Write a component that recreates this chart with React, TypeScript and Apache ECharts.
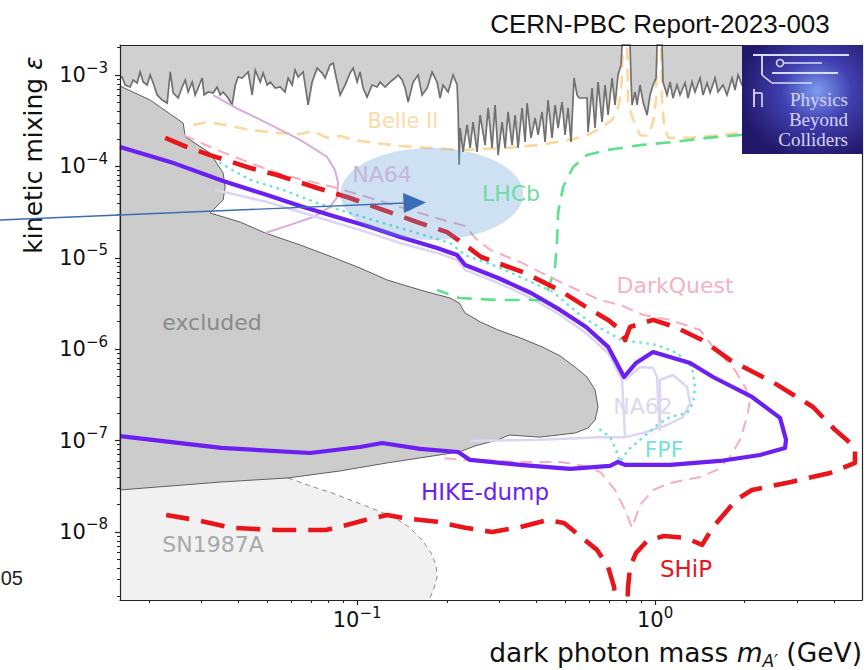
import React, { useEffect, useRef } from "react";
import * as echarts from "echarts";

// ---- axis ranges and ticks ----
const X_MIN = 0.016;
const X_MAX = 4.95;
const Y_MIN = 1.8e-9;
const Y_MAX = 2.13e-3;

const X_MAJOR_TICKS = [0.1, 1];
const X_MINOR_TICKS = [0.02, 0.03, 0.04, 0.05, 0.06, 0.07, 0.08, 0.09, 0.2, 0.3, 0.4, 0.5, 0.6, 0.7, 0.8, 0.9, 2, 3, 4];
const Y_MAJOR_TICKS = [1e-8, 1e-7, 1e-6, 1e-5, 1e-4, 1e-3];
const Y_MINOR_TICKS = [
  2e-9, 3e-9, 4e-9, 5e-9, 6e-9, 7e-9, 8e-9, 9e-9,
  2e-8, 3e-8, 4e-8, 5e-8, 6e-8, 7e-8, 8e-8, 9e-8,
  2e-7, 3e-7, 4e-7, 5e-7, 6e-7, 7e-7, 8e-7, 9e-7,
  2e-6, 3e-6, 4e-6, 5e-6, 6e-6, 7e-6, 8e-6, 9e-6,
  2e-5, 3e-5, 4e-5, 5e-5, 6e-5, 7e-5, 8e-5, 9e-5,
  2e-4, 3e-4, 4e-4, 5e-4, 6e-4, 7e-4, 8e-4, 9e-4,
  2e-3,
];

// ---- data: [dark photon mass (GeV), kinetic mixing epsilon] ----
const TOP_EXCLUDED_EDGE = [
  [0.016, 9.27e-4], [0.01627, 9.5e-4], [0.01665, 7.77e-4], [0.0173, 7.39e-4], [0.01771, 8.81e-4], [0.01827, 8.17e-4],
  [0.0187, 1.08e-3], [0.01913, 8.38e-4], [0.01974, 7.77e-4], [0.0202, 1.0e-3], [0.02068, 8.17e-4], [0.02133, 6.04e-4],
  [0.02216, 5.32e-4], [0.02304, 4.94e-4], [0.0236, 1.08e-3], [0.02413, 6.36e-4], [0.02508, 5.6e-4], [0.02587, 7.39e-4],
  [0.0265, 8.81e-4], [0.02709, 6.52e-4], [0.02795, 8.38e-4], [0.0286, 6.04e-4], [0.02927, 7.21e-4], [0.03019, 9.27e-4],
  [0.03066, 6.04e-4], [0.03162, 6.52e-4], [0.03287, 6.36e-4], [0.0339, 7.39e-4], [0.0347, 6.04e-4], [0.0355, 6.52e-4],
  [0.0369, 5.6e-4], [0.03806, 4.7e-4], [0.039, 7.77e-4], [0.03988, 9.5e-4], [0.04113, 9.27e-4], [0.0421, 1.0e-3],
  [0.04308, 1.08e-3], [0.04444, 6.04e-4], [0.0455, 1.13e-3], [0.0473, 8.38e-4], [0.04837, 1.05e-3], [0.04989, 7.77e-4],
  [0.0511, 8.38e-4], [0.0531, 7.21e-4], [0.0552, 7.39e-4], [0.0573, 6.52e-4], [0.05868, 9.27e-4], [0.06052, 7.77e-4],
  [0.0619, 1.13e-3], [0.06339, 9.5e-4], [0.06589, 1.08e-3], [0.06849, 4.7e-4], [0.07063, 8.38e-4], [0.07341, 1.19e-3],
  [0.0763, 1.05e-3], [0.0781, 9.27e-4], [0.0811, 1.29e-3], [0.08309, 1.35e-3], [0.08569, 8.38e-4], [0.0877, 6.04e-4],
  [0.0911, 7.77e-4], [0.0947, 1.05e-3], [0.09696, 1.19e-3], [0.1, 8.38e-4], [0.1023, 1.08e-3], [0.1047, 7.21e-4],
  [0.108, 5.74e-4], [0.1123, 7.77e-4], [0.1167, 7.39e-4], [0.1194, 8.38e-4], [0.1241, 7.39e-4], [0.129, 8.38e-4],
  [0.1341, 9.27e-4], [0.1373, 1.0e-3], [0.1416, 8.81e-4], [0.1449, 7.21e-4], [0.1483, 5.07e-4], [0.1542, 8.38e-4],
  [0.1602, 1.0e-3], [0.1652, 6.04e-4], [0.1718, 7.21e-4], [0.1785, 1.08e-3], [0.1855, 8.38e-4], [0.1899, 5.6e-4],
  [0.1943, 7.77e-4], [0.202, 6.52e-4], [0.21, 1.0e-3], [0.2166, 7.77e-4], [0.2183, 3.94e-4], [0.22, 1.04e-4],
  [0.2217, 2.63e-4], [0.2268, 1.44e-4], [0.2339, 2.84e-4], [0.2395, 1.59e-4], [0.245, 3.06e-4], [0.2527, 1.44e-4],
  [0.2587, 3.65e-4], [0.2689, 1.71e-4], [0.2752, 4.36e-4], [0.2838, 1.59e-4], [0.2905, 4.7e-4], [0.2973, 1.33e-4],
  [0.3066, 3.06e-4], [0.3139, 1.59e-4], [0.3212, 3.94e-4], [0.3312, 1.71e-4], [0.3391, 3.65e-4], [0.3469, 1.59e-4],
  [0.3578, 4.36e-4], [0.3663, 1.85e-4], [0.3719, 4.94e-4], [0.3835, 2.05e-4], [0.3957, 3.39e-4], [0.4049, 2.21e-4],
  [0.4176, 3.94e-4], [0.4275, 1.85e-4], [0.4374, 5.32e-4], [0.4511, 2.05e-4], [0.4618, 4.7e-4], [0.4726, 2.63e-4],
  [0.4875, 5.07e-4], [0.4989, 2.21e-4], [0.5105, 4.36e-4], [0.5225, 1.85e-4], [0.5347, 9.27e-4], [0.5472, 6.04e-4],
  [0.5558, 5.6e-4], [0.5912, 5.6e-4], [0.5958, 2.38e-4], [0.6145, 7.21e-4], [0.629, 2.63e-4], [0.6437, 8.38e-4],
  [0.664, 3.06e-4], [0.6795, 7.77e-4], [0.6955, 3.65e-4], [0.7174, 9.27e-4], [0.734, 4.7e-4], [0.7513, 1.0e-3],
  [0.7688, 1.29e-3], [0.7747, 2.13e-3], [0.8242, 2.13e-3], [0.8308, 8.81e-4], [0.8372, 4.7e-4], [0.8566, 6.52e-4],
  [0.8701, 4.7e-4], [0.8904, 7.77e-4], [0.9114, 5.07e-4], [0.9401, 3.65e-4], [0.9619, 6.04e-4], [0.9847, 7.77e-4],
  [1.0078, 9.27e-4], [1.0156, 2.13e-3], [1.0556, 2.13e-3], [1.0637, 8.38e-4], [1.097, 6.04e-4], [1.123, 8.38e-4],
  [1.149, 5.6e-4], [1.185, 7.77e-4], [1.213, 6.04e-4], [1.261, 8.17e-4], [1.29, 5.6e-4], [1.331, 8.38e-4],
  [1.362, 6.52e-4], [1.416, 9.27e-4], [1.449, 6.04e-4], [1.495, 8.17e-4], [1.53, 6.36e-4], [1.59, 9.27e-4],
  [1.627, 6.52e-4], [1.691, 7.77e-4], [1.744, 6.04e-4], [1.813, 9.27e-4], [1.855, 6.86e-4], [1.899, 1.0e-3],
  [1.958, 7.77e-4], [2.251, 8.81e-4], [3.066, 8.38e-4], [4.95, 8.81e-4],
];

const EXCLUDED = [
  [0.016, 7.58e-4], [0.0202, 5.32e-4], [0.02607, 2.98e-4], [0.0265, 2.1e-4], [0.0321, 1.4e-4], [0.0355, 8.47e-5],
  [0.03606, 5.95e-5], [0.0355, 4.29e-5], [0.03287, 3.34e-5], [0.0321, 3.09e-5], [0.0405, 2.46e-5], [0.0491, 1.87e-5],
  [0.0644, 1.38e-5], [0.0824, 1.02e-5], [0.1023, 7.73e-6], [0.1261, 5.72e-6], [0.1506, 4.79e-6], [0.1771, 4.12e-6],
  [0.2052, 3.63e-6], [0.22, 3.2e-6], [0.2304, 2.49e-6], [0.2587, 1.99e-6], [0.2973, 1.62e-6], [0.3524, 1.33e-6],
  [0.4176, 1.06e-6], [0.48, 8.43e-7], [0.539, 6.38e-7], [0.5912, 4.96e-7], [0.629, 3.58e-7], [0.6437, 2.33e-7],
  [0.629, 1.68e-7], [0.5958, 1.37e-7], [0.539, 1.21e-7], [0.4113, 1.09e-7], [0.3237, 1.15e-7], [0.2973, 1.02e-7],
  [0.2489, 8.73e-8], [0.22, 7.5e-8], [0.1627, 6.46e-8], [0.1261, 5.69e-8], [0.0877, 4.65e-8], [0.05868, 3.9e-8],
  [0.03497, 3.52e-8], [0.016, 2.88e-8],
];

const SN1987A_TOP = [[0.016, 2.88e-8], [0.03497, 3.52e-8]];
const SN1987A_EDGE = [
  [0.05868, 3.9e-8], [0.0695, 3.19e-8], [0.0824, 2.67e-8], [0.0985, 2.13e-8], [0.1158, 1.74e-8], [0.1341, 1.42e-8],
  [0.1494, 1.13e-8], [0.1652, 8.17e-9], [0.1771, 5.89e-9], [0.1841, 4.36e-9], [0.1855, 3.22e-9], [0.1813, 2.44e-9],
  [0.1744, 1.8e-9],
];

const BELLE2 = [
  [0.02817, 2.84e-4], [0.03138, 3.06e-4], [0.03606, 2.84e-4], [0.0438, 2.5e-4], [0.05388, 2.32e-4], [0.0644, 2.26e-4],
  [0.07116, 2.44e-4], [0.07929, 2.05e-4], [0.0877, 2.15e-4], [0.09696, 1.95e-4], [0.1167, 1.8e-4], [0.1394, 1.67e-4],
  [0.1799, 1.59e-4], [0.2217, 1.51e-4], [0.3139, 1.59e-4], [0.4049, 1.71e-4], [0.5186, 1.95e-4], [0.5958, 2.21e-4],
  [0.664, 2.7e-4], [0.7174, 3.22e-4], [0.7455, 3.94e-4], [0.7629, 5.6e-4], [0.7747, 1.0e-3], [0.7808, 2.5e-3],
  [0.8055, 2.5e-3], [0.8117, 5.32e-4], [0.8308, 3.84e-4], [0.8566, 2.84e-4], [0.8904, 2.21e-4], [0.9473, 2.15e-4],
  [0.9847, 3.06e-4], [1.0078, 5.32e-4], [1.0156, 2.5e-3], [1.0474, 2.5e-3], [1.0556, 5.32e-4], [1.072, 2.84e-4],
  [1.106, 2.05e-4], [1.311, 2.05e-4], [1.652, 2.21e-4], [1.958, 2.32e-4], [3.066, 2.5e-4], [4.95, 2.7e-4],
];

const NA64 = [
  [0.03287, 6.04e-4], [0.0405, 4.14e-4], [0.04989, 2.98e-4], [0.0644, 1.95e-4], [0.07929, 1.27e-4], [0.0843, 9.1e-5],
  [0.08635, 6.58e-5], [0.08569, 4.62e-5], [0.0811, 3.6e-5], [0.07116, 2.79e-5], [0.0596, 2.29e-5], [0.0491, 1.87e-5],
];

const NA62_UPPER = [
  [0.0334, 5.52e-5], [0.04989, 4.08e-5], [0.0644, 3.17e-5], [0.08309, 2.46e-5], [0.108, 1.91e-5], [0.1394, 1.45e-5],
  [0.1855, 1.13e-5], [0.2166, 9.46e-6], [0.2304, 7.36e-6], [0.2973, 5.3e-6], [0.3835, 3.63e-6], [0.48, 2.37e-6],
  [0.5868, 1.5e-6], [0.6955, 9.08e-7], [0.7747, 4.6e-7], [0.793, 1.09e-7],
];
const NA62_LOBES = [
  [0.793, 4.6e-7], [0.8904, 6.38e-7], [0.9847, 6.22e-7], [1.0156, 4.96e-7], [1.0234, 2.78e-7], [1.039, 1.31e-7],
  [1.039, 4.6e-7], [1.149, 5.22e-7], [1.281, 3.86e-7], [1.311, 2.58e-7], [1.241, 1.81e-7], [1.097, 1.48e-7],
  [0.9114, 1.21e-7], [0.793, 1.09e-7],
];
const NA62_LOWER = [[0.2395, 9.9e-8], [0.4113, 1.02e-7], [0.6538, 1.09e-7], [0.793, 1.09e-7]];

const LHCB = [
  [4.95, 2.63e-4], [3.066, 2.44e-4], [1.929, 2.21e-4], [1.495, 2.05e-4], [1.149, 1.85e-4], [0.8904, 1.71e-4],
  [0.6901, 1.51e-4], [0.5912, 1.33e-4], [0.5306, 9.8e-5], [0.4912, 5.95e-5], [0.4726, 3.09e-5], [0.469, 1.57e-5],
  [0.4618, 7.93e-6], [0.4374, 4.44e-6], [0.4176, 3.45e-6], [0.2973, 3.45e-6], [0.22, 3.63e-6], [0.1855, 4.44e-6],
];

const DARKQUEST = [
  [0.02607, 2.21e-4], [0.0339, 1.51e-4], [0.0438, 1.09e-4], [0.05646, 8.05e-5], [0.08309, 5.95e-5], [0.108, 4.62e-5],
  [0.1394, 3.6e-5], [0.1799, 2.79e-5], [0.2304, 2.23e-5], [0.2489, 1.65e-5], [0.2795, 1.22e-5], [0.3524, 9.0e-6],
  [0.48, 5.43e-6], [0.6538, 3.45e-6], [0.7629, 3.05e-6], [0.9114, 2.37e-6], [1.123, 2.09e-6], [1.416, 1.62e-6],
  [1.565, 1.06e-6], [1.827, 6.38e-7], [2.005, 3.86e-7], [2.084, 2.78e-7], [2.036, 1.81e-7], [1.929, 1.02e-7],
  [1.785, 6.62e-8], [1.615, 4.77e-8], [1.416, 4.0e-8], [1.123, 3.43e-8], [0.9847, 2.88e-8], [0.8904, 1.97e-8],
  [0.8372, 1.11e-8], [0.793, 1.74e-8], [0.734, 2.88e-8], [0.6538, 4.53e-8], [0.5823, 5.28e-8], [0.48, 5.83e-8],
  [0.3524, 5.83e-8], [0.2587, 6.14e-8], [0.2304, 6.14e-8], [0.1899, 6.46e-8],
];

const FPF = [
  [0.0347, 1.09e-4], [0.0438, 7.1e-5], [0.05646, 5.52e-5], [0.07341, 3.98e-5], [0.0947, 3.09e-5], [0.1222, 2.4e-5],
  [0.159, 1.87e-5], [0.2052, 1.45e-5], [0.2304, 1.07e-5], [0.2973, 7.93e-6], [0.4546, 4.23e-6], [0.5602, 2.37e-6],
  [0.6538, 1.71e-6], [0.7808, 1.23e-6], [0.8701, 1.2e-6], [1.0156, 1.11e-6], [1.185, 9.08e-7], [1.331, 6.38e-7],
  [1.362, 3.86e-7], [1.341, 2.58e-7], [1.281, 2.0e-7], [1.123, 1.81e-7], [1.039, 1.56e-7], [0.8904, 1.02e-7],
  [0.8117, 7.89e-8], [0.7629, 5.83e-8], [0.7397, 7.89e-8], [0.7062, 1.09e-7], [0.6437, 1.37e-7],
];

const SHIP = [
  [0.0227, 2.05e-4], [0.02688, 1.63e-4], [0.0321, 1.33e-4], [0.0438, 9.6e-5], [0.05388, 8.05e-5], [0.07341, 5.8e-5],
  [0.0947, 4.51e-5], [0.1222, 3.34e-5], [0.159, 2.46e-5], [0.2004, 1.91e-5], [0.2304, 1.38e-5], [0.2607, 1.02e-5],
  [0.3663, 6.82e-6], [0.4764, 4.44e-6], [0.5868, 2.9e-6], [0.6955, 2.09e-6], [0.7513, 1.71e-6], [0.793, 1.26e-6],
  [0.8242, 1.75e-6], [0.9847, 2.09e-6], [1.167, 1.75e-6], [1.438, 1.26e-6], [1.785, 7.62e-7], [2.508, 4.27e-7],
  [3.39, 2.33e-7], [4.018, 1.31e-7], [4.69, 8.5e-8], [4.69, 5.69e-8], [3.866, 4.42e-8], [2.861, 3.52e-8],
  [2.116, 2.88e-8], [1.87, 2.24e-8], [1.718, 1.61e-8], [1.565, 1.13e-8], [1.438, 7.21e-9], [1.271, 8.59e-9],
  [1.072, 9.04e-9], [0.9401, 7.97e-9], [0.8635, 5.89e-9], [0.8242, 4.14e-9], [0.8117, 2.5e-9], [0.8055, 1.33e-9],
  [0.7397, 1.33e-9], [0.7284, 2.5e-9], [0.6955, 4.14e-9], [0.6389, 6.36e-9], [0.5645, 8.81e-9], [0.4951, 1.25e-8],
  [0.4374, 1.35e-8], [0.3524, 1.13e-8], [0.2838, 1.0e-8], [0.2304, 1.11e-8], [0.1855, 1.29e-8], [0.1438, 1.42e-8],
  [0.1261, 1.53e-8], [0.1064, 1.35e-8], [0.0977, 1.25e-8], [0.0787, 1.05e-8], [0.05388, 1.05e-8], [0.03806, 1.11e-8],
  [0.02882, 1.35e-8], [0.02286, 1.53e-8],
];

const HIKE_DUMP = [
  [0.016, 1.63e-4], [0.0236, 1.12e-4], [0.0355, 6.92e-5], [0.04989, 4.86e-5], [0.0644, 3.69e-5], [0.08309, 2.87e-5],
  [0.108, 2.23e-5], [0.1394, 1.69e-5], [0.1855, 1.28e-5], [0.2166, 1.07e-5], [0.2304, 8.34e-6], [0.2973, 6.01e-6],
  [0.3835, 4.12e-6], [0.48, 2.69e-6], [0.5868, 1.75e-6], [0.6955, 1.06e-6], [0.787, 4.96e-7], [0.8635, 7.06e-7],
  [0.9847, 9.3e-7], [1.311, 7.06e-7], [1.565, 4.96e-7], [2.116, 3.0e-7], [2.627, 1.77e-7], [2.752, 1.02e-7],
  [2.731, 8.3e-8], [2.251, 6.95e-8], [1.652, 5.98e-8], [1.123, 5.41e-8], [0.793, 5.41e-8], [0.7513, 5.83e-8],
  [0.7062, 5.28e-8], [0.5186, 4.89e-8], [0.3524, 5.41e-8], [0.2395, 6.14e-8], [0.2183, 7.5e-8], [0.1627, 8.1e-8],
  [0.1213, 9.4e-8], [0.1023, 8.5e-8], [0.0695, 7.31e-8], [0.03497, 8.3e-8], [0.016, 1.12e-7],
];

// LHCb blob: bounding box in (mass, epsilon)
const LHCB_BLOB_M = [0.0877, 0.3607];
const LHCB_BLOB_EPS = [1.57e-5, 1.59e-4];

// ---- helpers ----
const FONT = "DejaVu Sans";

const powLabel = (v: number) => {
  const e = Math.round(Math.log10(v));
  return `{b|10}{s|${e < 0 ? "\u2212" + -e : e}}`;
};
const tickRich = {
  b: { fontSize: 21, fontFamily: FONT, color: "#111", lineHeight: 30 },
  s: { fontSize: 15, fontFamily: FONT, color: "#111", lineHeight: 16, verticalAlign: "top" },
};

const lineSeries = (name: string, data: number[][], color: string, width: number, type: any, z: number, cap = "butt") => ({
  type: "line",
  name,
  data,
  symbol: "none",
  silent: true,
  z,
  clip: true,
  lineStyle: { color, width, type, cap, join: "round" },
});

export default function App() {
  const ref = useRef<HTMLDivElement>(null);
  useEffect(() => {
    const chart = echarts.init(ref.current!, null, { renderer: "svg" });

    const axisCommon = { type: "log", logBase: 10, splitLine: { show: false }, z: 10 };
    const frameLine = { show: true, lineStyle: { color: "#222", width: 1.2 } };

    const label = (text: string, x: number, y: number, fill: string, fontSize = 22) => ({
      type: "text",
      x,
      y,
      z: 20,
      silent: true,
      style: { text, fill, fontSize, fontFamily: FONT, align: "center", verticalAlign: "middle" },
    });

    const LOGO_Z = 40;
    const logoLine = (x1: number, y1: number, x2: number, y2: number, w = 1.6) => ({
      type: "line",
      z: LOGO_Z,
      shape: { x1, y1, x2, y2 },
      style: { stroke: "#d9dcf6", lineWidth: w },
    });
    const logoText = (text: string, y: number) => ({
      type: "text",
      x: 106,
      y,
      z: LOGO_Z,
      style: { text, fill: "#d8d2f6", fontSize: 19, fontFamily: "Liberation Serif", align: "right", verticalAlign: "middle" },
    });

    const option: any = {
      animation: false,
      backgroundColor: "#fff",
      grid: { left: 120, right: 4, top: 45, bottom: 70, containLabel: false },
      xAxis: [
        {
          ...axisCommon,
          min: X_MIN,
          max: X_MAX,
          position: "bottom",
          axisLine: frameLine,
          axisTick: { show: true, length: 5, customValues: X_MAJOR_TICKS, lineStyle: { color: "#222", width: 1.2 } },
          axisLabel: { customValues: X_MAJOR_TICKS, formatter: powLabel, rich: tickRich, margin: 5, fontFamily: FONT },
        },
        {
          ...axisCommon,
          min: X_MIN,
          max: X_MAX,
          position: "bottom",
          axisLine: { show: false },
          axisLabel: { show: false },
          axisTick: { show: true, length: 3, customValues: X_MINOR_TICKS, lineStyle: { color: "#222", width: 1 } },
        },
        {
          ...axisCommon,
          min: X_MIN,
          max: X_MAX,
          position: "top",
          axisLine: frameLine,
          axisLabel: { show: false },
          axisTick: { show: false },
        },
      ],
      yAxis: [
        {
          ...axisCommon,
          min: Y_MIN,
          max: Y_MAX,
          position: "left",
          axisLine: frameLine,
          axisTick: { show: true, length: 5, customValues: Y_MAJOR_TICKS, lineStyle: { color: "#222", width: 1.2 } },
          axisLabel: { customValues: Y_MAJOR_TICKS, formatter: powLabel, rich: tickRich, margin: 12, fontFamily: FONT },
        },
        {
          ...axisCommon,
          min: Y_MIN,
          max: Y_MAX,
          position: "left",
          axisLine: { show: false },
          axisLabel: { show: false },
          axisTick: { show: true, length: 3, customValues: Y_MINOR_TICKS, lineStyle: { color: "#222", width: 1 } },
        },
        {
          ...axisCommon,
          min: Y_MIN,
          max: Y_MAX,
          position: "right",
          axisLine: frameLine,
          axisLabel: { show: false },
          axisTick: { show: false },
        },
      ],
      series: [
        // SN1987A region
        {
          type: "custom",
          name: "SN1987A",
          coordinateSystem: "cartesian2d",
          silent: true,
          z: 1,
          data: [SN1987A_EDGE[0]],
          renderItem: (_p: any, api: any) => {
            const poly = [...SN1987A_TOP, ...SN1987A_EDGE, [X_MIN, Y_MIN]].map((d) => api.coord(d));
            const edge = SN1987A_EDGE.map((d) => api.coord(d));
            return {
              type: "group",
              children: [
                { type: "polygon", shape: { points: poly }, style: { fill: "#f1f1f1" } },
                { type: "polyline", shape: { points: edge }, style: { fill: "none", stroke: "#8a8a8a", lineWidth: 1, lineDash: [5, 4] } },
              ],
            };
          },
        },
        lineSeries("Belle II", BELLE2, "#fbd89e", 2.6, [13, 8], 2),
        // top excluded region
        {
          type: "custom",
          name: "excluded (top)",
          coordinateSystem: "cartesian2d",
          silent: true,
          z: 3,
          data: [TOP_EXCLUDED_EDGE[0]],
          renderItem: (_p: any, api: any) => {
            const poly = [...TOP_EXCLUDED_EDGE, [X_MAX, Y_MAX], [X_MIN, Y_MAX]].map((d) => api.coord(d));
            const edge = TOP_EXCLUDED_EDGE.map((d) => api.coord(d));
            return {
              type: "group",
              children: [
                { type: "polygon", shape: { points: poly }, style: { fill: "#d0d0d0" } },
                { type: "polyline", shape: { points: edge }, style: { fill: "none", stroke: "#707070", lineWidth: 1.7 } },
              ],
            };
          },
        },
        // main excluded region
        {
          type: "custom",
          name: "excluded",
          coordinateSystem: "cartesian2d",
          silent: true,
          z: 3,
          data: [EXCLUDED[0]],
          renderItem: (_p: any, api: any) => ({
            type: "polygon",
            shape: { points: EXCLUDED.map((d) => api.coord(d)) },
            style: { fill: "#cccccc", stroke: "#5f5f5f", lineWidth: 1 },
          }),
        },
        lineSeries("NA64", NA64, "#d9acd9", 2, "solid", 4),
        lineSeries("NA62", NA62_UPPER, "#ddd5f3", 2.5, "solid", 4),
        lineSeries("NA62 lobes", NA62_LOBES, "#ddd5f3", 2.5, "solid", 4),
        lineSeries("NA62 lower", NA62_LOWER, "#ddd5f3", 2.5, "solid", 4),
        lineSeries("LHCb", LHCB, "#5fe08d", 2.6, [15, 9], 4),
        lineSeries("DarkQuest", DARKQUEST, "#f6aebd", 2, [12, 7], 4),
        lineSeries("FPF", FPF, "#6fe3d8", 2.6, [0.5, 6.5], 5, "round"),
        lineSeries("SHiP", SHIP, "#e8151b", 4.6, [24, 12], 6),
        lineSeries("HIKE-dump", HIKE_DUMP, "#6b1ff0", 4.2, "solid", 7),
        // LHCb blob (semi-transparent)
        {
          type: "custom",
          name: "LHCb blob",
          coordinateSystem: "cartesian2d",
          silent: true,
          z: 8,
          data: [[LHCB_BLOB_M[0], LHCB_BLOB_EPS[0]]],
          renderItem: (_p: any, api: any) => {
            const a = api.coord([LHCB_BLOB_M[0], LHCB_BLOB_EPS[0]]);
            const b = api.coord([LHCB_BLOB_M[1], LHCB_BLOB_EPS[1]]);
            return {
              type: "ellipse",
              shape: {
                cx: (a[0] + b[0]) / 2,
                cy: (a[1] + b[1]) / 2,
                rx: Math.abs(b[0] - a[0]) / 2,
                ry: Math.abs(b[1] - a[1]) / 2,
              },
              style: { fill: "rgba(91,155,213,0.3)" },
            };
          },
        },
      ],
      graphic: [
        label("Belle II", 403, 121, "#f9dba8", 21),
        label("NA64", 382, 174, "#c6b4dd", 22),
        label("LHCb", 511, 193, "#6edc9f", 22),
        label("DarkQuest", 675, 285, "#f4b3c1", 22),
        label("excluded", 212, 322, "#8a8a8a", 22),
        label("NA62", 643, 406, "#ddd7ef", 22),
        label("FPF", 664, 449, "#74e2da", 22),
        label("HIKE-dump", 485, 492, "#6b1ff0", 23),
        label("SN1987A", 213, 544, "#a9a9a9", 22),
        label("SHiP", 686, 569, "#e8151b", 23),
        {
          type: "text",
          x: 660,
          y: 24,
          z: 20,
          style: { text: "CERN-PBC Report-2023-003", fill: "#111", fontSize: 26, fontFamily: "Liberation Sans", align: "center", verticalAlign: "middle" },
        },
        {
          type: "text",
          x: 23,
          y: 578,
          z: 20,
          style: { text: "05", fill: "#222", fontSize: 20, fontFamily: "Liberation Sans", align: "right", verticalAlign: "middle" },
        },
        {
          type: "text",
          x: 33,
          y: 155,
          rotation: Math.PI / 2,
          z: 20,
          style: {
            text: "{n|kinetic mixing }{i|\u03b5}",
            align: "center",
            verticalAlign: "middle",
            rich: {
              n: { fontSize: 25, fontFamily: FONT, fill: "#111" },
              i: { fontSize: 25, fontFamily: FONT, fontStyle: "italic", fill: "#111" },
            },
          },
        },
        {
          type: "text",
          x: 862,
          y: 652,
          z: 20,
          style: {
            text: "{n|dark photon mass }{i|m}{sub|A\u2032}{n| (GeV)}",
            align: "right",
            verticalAlign: "middle",
            rich: {
              n: { fontSize: 26.5, fontFamily: FONT, fill: "#111", lineHeight: 34 },
              i: { fontSize: 26.5, fontFamily: FONT, fontStyle: "italic", fill: "#111", lineHeight: 34 },
              sub: { fontSize: 17, fontFamily: FONT, fontStyle: "italic", fill: "#111", lineHeight: 18, verticalAlign: "bottom" },
            },
          },
        },
        // Physics Beyond Colliders logo
        {
          type: "group",
          x: 742,
          y: 45,
          z: LOGO_Z,
          children: [
            {
              type: "rect",
              z: LOGO_Z,
              shape: { x: 0, y: 0, width: 121, height: 109 },
              style: {
                fill: new echarts.graphic.RadialGradient(0.62, 0.42, 0.65, [
                  { offset: 0, color: "#7d9cf0" },
                  { offset: 0.45, color: "#3f3fb0" },
                  { offset: 1, color: "#221869" },
                ]),
              },
            },
            logoLine(11, 10, 107, 10, 2),
            logoLine(30, 28, 96, 28, 1.8),
            logoLine(20, 10, 20, 30, 1.8),
            logoLine(20, 30, 30, 38),
            logoLine(30, 38, 70, 38),
            {
              type: "circle",
              z: LOGO_Z,
              shape: { cx: 38, cy: 18, r: 3.5 },
              style: { fill: "none", stroke: "#d9dcf6", lineWidth: 1.5 },
            },
            logoLine(41, 18, 80, 18),
            logoLine(12, 44, 12, 62, 1.8),
            logoLine(12, 48, 20, 48),
            logoLine(20, 48, 20, 62),
            logoText("Physics", 54),
            logoText("Beyond", 74),
            logoText("Colliders", 94),
          ],
        },
        // annotation arrow
        {
          type: "line",
          z: 30,
          shape: { x1: 0, y1: 220, x2: 405, y2: 203 },
          style: { stroke: "#3a6db4", lineWidth: 1.4 },
        },
        {
          type: "polygon",
          z: 30,
          shape: { points: [[403, 193], [426, 202.5], [404, 213]] },
          style: { fill: "#3a6db4" },
        },
      ],
    };

    chart.setOption(option);
    return () => chart.dispose();
  }, []);

  return (
    <div
      ref={ref}
      style={{ position: "fixed", left: 0, top: 0, width: 866, height: 670, background: "#fff" }}
    />
  );
}
